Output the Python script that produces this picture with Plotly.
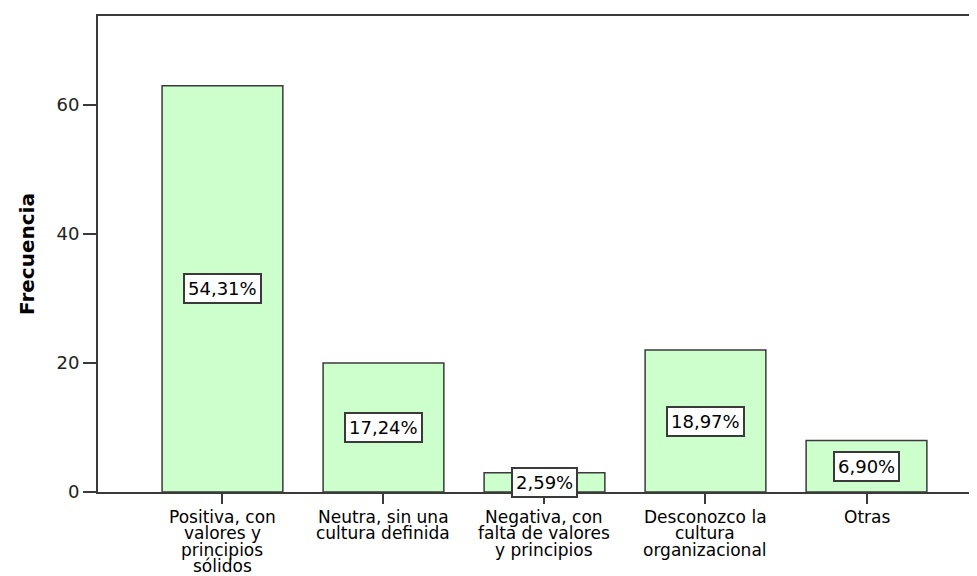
import plotly.graph_objects as go

categorias = [
    "Positiva, con<br>valores y<br>principios<br>sólidos",
    "Neutra, sin una<br>cultura definida",
    "Negativa, con<br>falta de valores<br>y principios",
    "Desconozco la<br>cultura<br>organizacional",
    "Otras",
]
frecuencia = [63, 20, 3, 22, 8]
porcentaje = ["54,31%", "17,24%", "2,59%", "18,97%", "6,90%"]
yticks = [0, 20, 40, 60]

FONT = "DejaVu Sans"
LINE = "#3a3a3a"

fig = go.Figure(
    go.Bar(
        x=categorias,
        y=frecuencia,
        width=0.75,
        marker=dict(color="#ccffcc", line=dict(color=LINE, width=1.5)),
        hoverinfo="x+y",
    )
)

# percentage boxes in the middle of each bar
for cat, val, pct in zip(categorias, frecuencia, porcentaje):
    fig.add_annotation(
        x=cat, y=val / 2, text=pct, showarrow=False,
        font=dict(family=FONT, size=18, color="black"),
        bgcolor="white", bordercolor=LINE, borderwidth=2, borderpad=3,
        xanchor="center", yanchor="middle",
    )

# category labels, one annotation per line to keep the tight line spacing
for cat in categorias:
    for j, linea in enumerate(cat.split("<br>")):
        fig.add_annotation(
            x=cat, y=0, yref="paper", text=linea, showarrow=False,
            font=dict(family=FONT, size=17, color="black"),
            xanchor="center", yanchor="middle",
            yshift=-(25 + 16.4 * j),
        )

# the page has an 8px body margin, so the plot area is set relative to that;
# the right side runs off the window like in the reference
fig.update_layout(
    width=977, height=576,
    margin=dict(l=90, r=0, t=8, b=92),
    plot_bgcolor="white", paper_bgcolor="white",
    showlegend=False,
    font=dict(family=FONT, size=17, color="black"),
)

fig.update_xaxes(
    type="category",
    range=[-0.773, 4.736],
    showticklabels=False,
    ticks="outside", ticklen=10, tickwidth=2, tickcolor=LINE,
    showline=True, linecolor=LINE, linewidth=2, mirror=True,
    showgrid=False, zeroline=False,
)

fig.update_yaxes(
    range=[0, 73.8],
    tickvals=yticks,
    ticks="outside", ticklen=13, tickwidth=2, tickcolor=LINE,
    tickfont=dict(family=FONT, size=18, color="#222"),
    showline=True, linecolor=LINE, linewidth=2,
    showgrid=False, zeroline=False,
    title=dict(text="<b>Frecuencia</b>", font=dict(family=FONT, size=20, color="black"), standoff=16),
    automargin=False,
)

fig.write_html("out.html")
